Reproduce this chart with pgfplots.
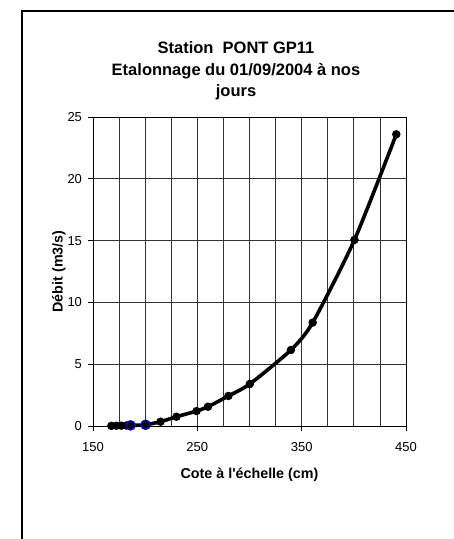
\documentclass[border=0pt]{standalone}
\usepackage{pgfplots}
\pgfplotsset{compat=1.18}
\usepackage{fontspec}
\setmainfont{Liberation Sans}
\definecolor{gridc}{gray}{0.2}
\definecolor{navyb}{rgb}{0.05,0.05,0.6}
\begin{document}
\begin{tikzpicture}[x=1pt,y=1pt]
\useasboundingbox (0pt,0pt) rectangle (454pt,-539pt);
\draw[line width=2.2pt] (22pt,-539pt) -- (22pt,-11pt) -- (454pt,-11pt);
\node[font=\bfseries\fontsize{16.5}{18}\selectfont] at (236pt,-48pt) {Station\ \ PONT GP11};
\node[font=\bfseries\fontsize{16.5}{18}\selectfont] at (236pt,-71pt) {Etalonnage du 01/09/2004 à nos};
\node[font=\bfseries\fontsize{16.5}{18}\selectfont] at (236pt,-92pt) {jours};
\begin{axis}[
  at={(93pt,-426pt)}, anchor=south west,
  scale only axis, width=313pt, height=309pt,
  xmin=150, xmax=450, ymin=0, ymax=25,
  xtick={150,250,350,450},
  minor xtick={175,200,225,275,300,325,375,400,425},
  ytick={0,5,10,15,20,25},
  grid=both,
  major grid style={gridc, line width=0.7pt},
  minor grid style={gridc, line width=0.7pt},
  axis line style={black, line width=0.8pt},
  tick align=outside,
  major tick length=4.5pt,
  minor tick length=0pt,
  xtick pos=bottom, ytick pos=left,
  tick style={black, line width=0.8pt},
  ticklabel style={font=\fontsize{13}{15}\selectfont},
  xticklabel style={yshift=-8pt},
  yticklabel style={xshift=-3pt},
  /pgf/number format/assume math mode=true,
  xlabel={\bfseries Cote à l\textquotesingle échelle (cm)},
  ylabel={\bfseries Débit (m3/s)},
  xlabel style={font=\fontsize{14.3}{16}\selectfont, at={(axis description cs:0.5,0)}, anchor=center, yshift=-49pt},
  ylabel style={font=\fontsize{14.3}{16}\selectfont, at={(axis description cs:-0.109,0.5)}, anchor=center},
  clip=false,
]
\addplot[black, line width=3.6pt, smooth, tension=0.4, mark=*, mark size=3.8pt, mark options={fill=black, line width=0.8pt}] coordinates {
(167.6,0.01) (172.4,0.02) (177.2,0.03) (182,0.04) (186,0.05) (200.4,0.1)
(214.7,0.35) (230,0.75) (249.3,1.21) (260.2,1.56) (279.8,2.43) (300.3,3.4)
(339.7,6.15) (360.6,8.37) (400.6,15.06) (440.7,23.6)
};
\addplot[only marks, mark=o, mark size=4.4pt, mark options={draw=navyb, line width=1.8pt}] coordinates {
(186,0.05) (200.4,0.1)
};
\end{axis}
\end{tikzpicture}
\end{document}
